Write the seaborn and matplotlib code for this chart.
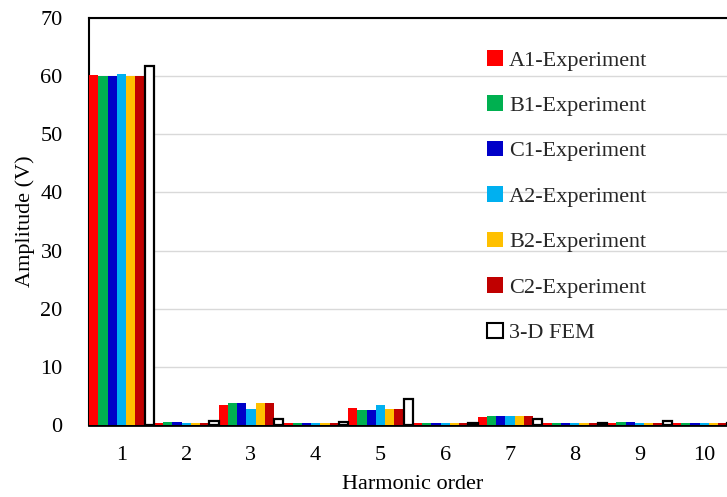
import matplotlib
matplotlib.use("Agg")
import matplotlib.pyplot as plt
import seaborn as sns
import pandas as pd
from matplotlib.patches import Patch

harmonics = ["1", "2", "3", "4", "5", "6", "7", "8", "9", "10"]
a1_exp = [60.2, 0.35, 3.4, 0.4, 3.0, 0.4, 1.3, 0.4, 0.4, 0.4]
b1_exp = [60.0, 0.5, 3.7, 0.4, 2.6, 0.4, 1.55, 0.4, 0.6, 0.4]
c1_exp = [60.0, 0.5, 3.7, 0.4, 2.6, 0.4, 1.55, 0.4, 0.6, 0.4]
a2_exp = [60.4, 0.35, 2.8, 0.4, 3.4, 0.4, 1.55, 0.4, 0.4, 0.4]
b2_exp = [60.0, 0.35, 3.7, 0.4, 2.8, 0.4, 1.55, 0.4, 0.4, 0.4]
c2_exp = [60.0, 0.4, 3.7, 0.4, 2.8, 0.4, 1.55, 0.4, 0.4, 0.4]
fem_3d = [61.8, 0.7, 1.0, 0.5, 4.5, 0.3, 1.0, 0.3, 0.7, 0.3]

series_names = ["A1-Experiment", "B1-Experiment", "C1-Experiment",
                "A2-Experiment", "B2-Experiment", "C2-Experiment", "3-D FEM"]
series_vals = [a1_exp, b1_exp, c1_exp, a2_exp, b2_exp, c2_exp, fem_3d]
colors = ["#FF0000", "#00B050", "#0000C8", "#00B0F0", "#FFC000", "#C00000", "#FFFFFF"]

rows = []
for name, vals in zip(series_names, series_vals):
    for h, v in zip(harmonics, vals):
        rows.append({"Harmonic": h, "Series": name, "Amplitude": v})
df = pd.DataFrame(rows)

sns.set_theme(style="white")
plt.rcParams["font.family"] = ["Liberation Serif", "DejaVu Serif"]

FS = 16
W, H = 727, 497
fig = plt.figure(figsize=(W / 100, H / 100), dpi=100)
left, right, top, bottom = 89, 736.6, 18, 425
ax = fig.add_axes([left / W, (H - bottom) / H, (right - left) / W, (bottom - top) / H])

sns.barplot(data=df, x="Harmonic", y="Amplitude", hue="Series",
            order=harmonics, hue_order=series_names,
            palette=dict(zip(series_names, colors)),
            width=1.0, gap=0, saturation=1, linewidth=0, ax=ax, legend=False, zorder=3)

for bar in ax.containers[-1]:
    bar.set_edgecolor("black")
    bar.set_linewidth(1.6)

ax.set_xlim(-0.5, 9.5)
ax.set_ylim(0, 70)
ax.set_yticks(range(0, 71, 10))
ax.yaxis.grid(True, color="#D9D9D9", linewidth=1.0, zorder=0)
ax.set_axisbelow(True)
ax.tick_params(axis="both", length=0, labelsize=FS, colors="black")
ax.tick_params(axis="y", pad=19)
ax.tick_params(axis="x", pad=15)
ax.set_xlabel("Harmonic order", fontsize=FS, color="black", labelpad=7)
ax.set_ylabel("Amplitude (V)", fontsize=FS, color="black", labelpad=4)

for s in ["left", "top"]:
    ax.spines[s].set_color("black")
    ax.spines[s].set_linewidth(1.5)
ax.spines["bottom"].set_color("black")
ax.spines["bottom"].set_linewidth(2.0)
ax.spines["bottom"].set_zorder(2.5)
ax.spines["right"].set_visible(False)

handles = [Patch(facecolor=c, edgecolor=("black" if c == "#FFFFFF" else c),
                 linewidth=(1.5 if c == "#FFFFFF" else 0)) for c in colors]
fig.legend(handles, series_names, loc="upper left",
           bbox_to_anchor=(487 / W, 1 - 50 / H), frameon=False,
           fontsize=FS, handlelength=0.7, handleheight=0.7,
           handletextpad=0.3, labelspacing=1.12, borderpad=0, borderaxespad=0)

fig.savefig("out.png", dpi=100)
